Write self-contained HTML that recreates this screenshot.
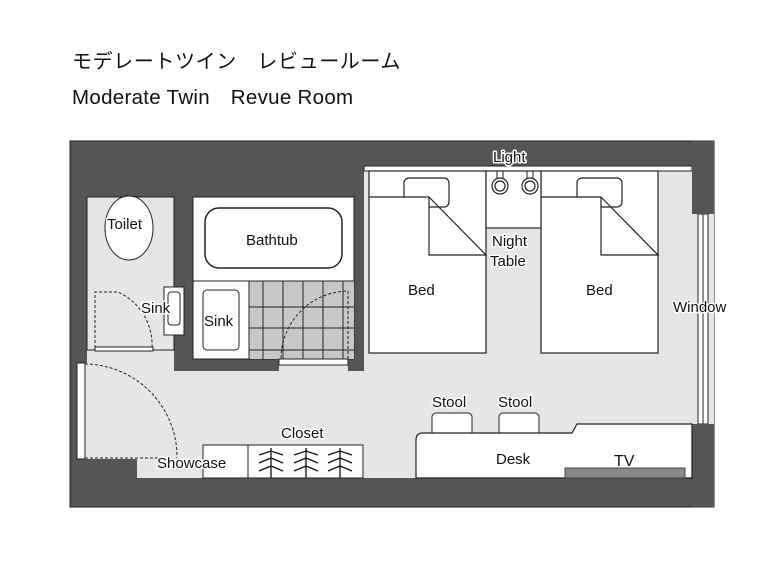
<!DOCTYPE html>
<html><head><meta charset="utf-8"><style>
html,body{margin:0;padding:0;background:#fff;}
svg{display:block;}
text{font-family:"Liberation Sans","Noto Sans CJK JP",sans-serif;fill:#111;}
.lbl{font-size:15px;stroke:#fff;stroke-width:3px;paint-order:stroke;stroke-linejoin:round;}
</style></head><body>
<svg width="780" height="585" viewBox="0 0 780 585" xmlns="http://www.w3.org/2000/svg">
<text x="72" y="68" font-size="20" style="letter-spacing:0.6px">モデレートツイン　レビュールーム</text>
<text x="72" y="104" font-size="20.5" style="letter-spacing:0.3px">Moderate Twin　Revue Room</text>

<rect x="70" y="141" width="644" height="366" fill="#575455" stroke="#222" stroke-width="1"/>
<path d="M364,166 H692 V214 H714 V424 H692 V478 H137 V459 H85 V363 H87 V350 H174 V371 H279 V365 H348 V371 H364 Z" fill="#e6e6e6"/>
<rect x="87" y="197" width="87" height="153" fill="#e6e6e6" stroke="#222"/>
<rect x="193" y="197" width="161" height="162" fill="#fff" stroke="#222"/>
<rect x="249" y="281" width="105" height="78" fill="#c8c8c8"/>
<g stroke="#222" stroke-width="1">
<line x1="193" y1="281" x2="354" y2="281"/>
<line x1="249" y1="281" x2="249" y2="359"/>
<line x1="263" y1="281" x2="263" y2="359"/><line x1="283" y1="281" x2="283" y2="359"/>
<line x1="303" y1="281" x2="303" y2="359"/><line x1="323" y1="281" x2="323" y2="359"/>
<line x1="343" y1="281" x2="343" y2="359"/>
<line x1="249" y1="307" x2="354" y2="307"/><line x1="249" y1="328" x2="354" y2="328"/>
<line x1="249" y1="350" x2="354" y2="350"/>
</g>
<rect x="279" y="359" width="69" height="6" fill="#fff" stroke="#222"/>
<rect x="205" y="208" width="137" height="60" rx="14" fill="#fff" stroke="#222" stroke-width="1.5"/>
<rect x="203" y="290" width="36" height="60" rx="4" fill="#fff" stroke="#222"/>
<ellipse cx="129" cy="228" rx="24" ry="32" fill="#fff" stroke="#222"/>
<rect x="164" y="287" width="20" height="48" fill="#fff" stroke="#222"/>
<rect x="168" y="292" width="12" height="33" rx="3" fill="#fff" stroke="#222"/>
<rect x="95" y="347" width="58" height="4" fill="#fff" stroke="#222"/>
<rect x="364" y="166" width="328" height="5" fill="#fff" stroke="#222"/>
<g fill="#fff" stroke="#222" stroke-width="1.2">
<rect x="369" y="171" width="117" height="182"/>
<rect x="404" y="178" width="45" height="29" rx="5"/>
<rect x="370" y="197.6" width="59" height="11" stroke="none"/>
<path d="M369,197 H429 V255 H486 L429,197" fill="none"/>
<rect x="541" y="171" width="117" height="182"/>
<rect x="577" y="178" width="45" height="29" rx="5"/>
<rect x="542" y="197.6" width="59" height="11" stroke="none"/>
<path d="M541,197 H601 V255 H658 L601,197" fill="none"/>
<rect x="486" y="171" width="55" height="57"/>
<circle cx="500" cy="186" r="8"/><circle cx="500" cy="186" r="5"/>
<circle cx="530" cy="186" r="8"/><circle cx="530" cy="186" r="5"/>
</g>
<g stroke="#222" stroke-width="1"><line x1="497" y1="171" x2="497" y2="178"/><line x1="503" y1="171" x2="503" y2="178"/><line x1="527" y1="171" x2="527" y2="178"/><line x1="533" y1="171" x2="533" y2="178"/></g>
<rect x="698" y="214" width="10" height="210" fill="#fff" stroke="#222"/>
<line x1="703" y1="214" x2="703" y2="424" stroke="#222"/>
<rect x="692" y="424" width="22" height="83" fill="#575455"/>
<rect x="692" y="141" width="22" height="73" fill="#575455"/>
<rect x="77" y="363" width="8" height="96" fill="#fff" stroke="#222"/>
<rect x="432" y="413" width="40" height="24" rx="4" fill="#fff" stroke="#222"/>
<rect x="499" y="413" width="40" height="24" rx="4" fill="#fff" stroke="#222"/>
<path d="M416,478 V440 Q416,433 423,433 H572 L577,424 H692 V478 Z" fill="#fff" stroke="#222" stroke-width="1.2"/>
<rect x="565" y="468" width="120" height="10" fill="#888" stroke="#444"/>
<rect x="203" y="445" width="45" height="33" fill="#fff" stroke="#222"/>
<rect x="248" y="445" width="115" height="33" fill="#fff" stroke="#222"/>
<g stroke="#111" stroke-width="1.3" fill="none">
<g id="h"><line x1="271" y1="448" x2="271" y2="478"/><path d="M259,455 L271,451 L283,455 M259,463 L271,458 L283,463 M259,471 L271,466 L283,471"/></g>
<use href="#h" x="35"/><use href="#h" x="69"/>
</g>
<g stroke="#222" stroke-width="1" fill="none" stroke-dasharray="3,2">
<path d="M95,348 V292 H118 A58,58 0 0 1 152,348"/>
<path d="M348,359 V291 A68,68 0 0 0 281,359"/>
<path d="M85,364 A93,93 0 0 1 177,458 M85,458 H165"/>
</g>
<text class="lbl" x="107" y="229">Toilet</text>
<text x="246" y="245" font-size="15">Bathtub</text>
<text class="lbl" x="141" y="313">Sink</text>
<text class="lbl" x="204" y="326">Sink</text>
<text x="408" y="295" font-size="15">Bed</text>
<text x="586" y="295" font-size="15">Bed</text>
<text class="lbl" x="493" y="162">Light</text>
<text class="lbl" x="492" y="246">Night</text>
<text class="lbl" x="490" y="266">Table</text>
<text class="lbl" x="673" y="312">Window</text>
<text class="lbl" x="432" y="407">Stool</text>
<text class="lbl" x="498" y="407">Stool</text>
<text class="lbl" x="281" y="438">Closet</text>
<text class="lbl" x="157" y="468">Showcase</text>
<text x="496" y="464" font-size="15">Desk</text>
<text x="614" y="466" font-size="16">TV</text>
</svg>
</body></html>
